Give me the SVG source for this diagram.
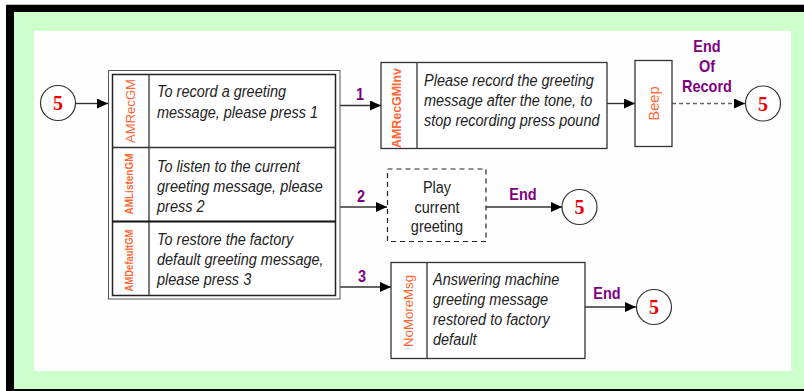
<svg xmlns="http://www.w3.org/2000/svg" width="804" height="391" viewBox="0 0 804 391">
  <defs>
    <marker id="arrow" markerUnits="userSpaceOnUse" markerWidth="12" markerHeight="10" refX="11" refY="5" orient="auto">
      <path d="M0,0 L11,5 L0,10 Z" fill="#000"/>
    </marker>
    <style>
      .box { fill: #fff; stroke: #333; stroke-width: 1.3; }
      .dashbox { fill: #fff; stroke: #222; stroke-width: 1.2; stroke-dasharray: 5 4; }
      .div { stroke: #333; stroke-width: 1.3; }
      .conn { stroke: #333; stroke-width: 1.4; fill: none; marker-end: url(#arrow); }
      .dashed { stroke: #666; stroke-width: 1.4; stroke-dasharray: 4 3; fill: none; marker-end: url(#arrow); }
      .end { fill: #fff; stroke: #333; stroke-width: 1.2; }
      .num { font-family: "Liberation Serif", "Times New Roman", serif; font-weight: bold; font-size: 20px; fill: #ee0000; text-anchor: middle; }
      .body { font-family: "Liberation Sans", Arial, sans-serif; font-style: italic; font-size: 14.5px; fill: #222; }
      .plain { font-family: "Liberation Sans", Arial, sans-serif; font-size: 14.5px; fill: #222; text-anchor: middle; }
      .tag { font-family: "Liberation Sans", Arial, sans-serif; fill: #ff6633; text-anchor: middle; dominant-baseline: central; }
      .lbl { font-family: "Liberation Sans", Arial, sans-serif; font-weight: bold; font-size: 14.5px; fill: #800080; text-anchor: middle; }
    </style>
  </defs>

  <!-- frame -->
  <rect x="6" y="4" width="798" height="387" fill="#000"/>
  <rect x="6" y="4" width="798" height="1" fill="#bbb"/>
  <rect x="14" y="12" width="790" height="377" fill="#ccffcc"/>
  <rect x="34" y="31" width="757" height="340" fill="#fefefe"/>

  <!-- connectors (horizontal labels use a slightly tall glyph scale) -->
  <g id="connectors">
    <line class="conn" x1="76" y1="103.5" x2="108" y2="103.5"/>
    <line class="conn" x1="340" y1="105.5" x2="381" y2="105.5"/>
    <line class="conn" x1="607" y1="103.5" x2="635" y2="103.5"/>
    <line class="dashed" x1="672" y1="103.5" x2="745" y2="103.5"/>
    <line class="conn" x1="340" y1="207" x2="387" y2="207"/>
    <line class="conn" x1="486" y1="207" x2="562" y2="207"/>
    <line class="conn" x1="340" y1="287" x2="391" y2="287"/>
    <line class="conn" x1="585" y1="307" x2="636" y2="307"/>
    <text class="lbl" transform="translate(360,100) scale(1,1.18)">1</text>
    <text class="lbl" transform="translate(361,202) scale(1,1.18)">2</text>
    <text class="lbl" transform="translate(362,282) scale(1,1.18)">3</text>
    <text class="lbl" transform="translate(707,51.5) scale(1,1.18)">End</text>
    <text class="lbl" transform="translate(707,71.5) scale(1,1.18)">Of</text>
    <text class="lbl" transform="translate(707,91.5) scale(1,1.18)">Record</text>
    <text class="lbl" transform="translate(523,199.5) scale(1,1.18)">End</text>
    <text class="lbl" transform="translate(607,298.5) scale(1,1.18)">End</text>
  </g>

  <!-- start connector -->
  <g id="start">
    <circle class="end" cx="58" cy="103" r="17.5"/>
    <text class="num" x="58" y="110">5</text>
  </g>

  <!-- greeting menu -->
  <g id="menu">
    <rect x="108.5" y="70.5" width="231.5" height="228.5" fill="#fff" stroke="#555" stroke-width="1"/>
    <rect x="112.5" y="74.5" width="223" height="221" fill="none" stroke="#222" stroke-width="1.5"/>
    <line class="div" x1="149" y1="74.5" x2="149" y2="295.5"/>
    <line class="div" x1="112.5" y1="147.5" x2="335.5" y2="147.5"/>
    <line x1="112.5" y1="221.5" x2="335.5" y2="221.5" stroke="#111" stroke-width="2.2"/>

    <text class="tag" font-size="13" textLength="64" lengthAdjust="spacingAndGlyphs" transform="translate(130.5,111) rotate(-90)">AMRecGM</text>
    <text class="body" transform="translate(157,97) scale(1,1.12)">To record a greeting</text>
    <text class="body" transform="translate(157,118) scale(1,1.12)">message, please press 1</text>

    <text class="tag" font-size="10" font-weight="bold" textLength="61" lengthAdjust="spacingAndGlyphs" transform="translate(129,184) rotate(-90)">AMListenGM</text>
    <text class="body" transform="translate(157,172) scale(1,1.12)">To listen to the current</text>
    <text class="body" transform="translate(157,192) scale(1,1.12)">greeting message, please</text>
    <text class="body" transform="translate(157,212) scale(1,1.12)">press 2</text>

    <text class="tag" font-size="10" font-weight="bold" textLength="62" lengthAdjust="spacingAndGlyphs" transform="translate(129,260.5) rotate(-90)">AMDefaultGM</text>
    <text class="body" transform="translate(157,244.5) scale(1,1.12)">To restore the factory</text>
    <text class="body" transform="translate(157,265) scale(1,1.12)">default greeting message,</text>
    <text class="body" transform="translate(157,285) scale(1,1.12)">please press 3</text>
  </g>

  <!-- record prompt -->
  <g id="record-prompt">
    <rect class="box" x="381" y="62.5" width="226" height="86"/>
    <line class="div" x1="417" y1="62.5" x2="417" y2="148.5"/>
    <text class="tag" font-size="12" font-weight="bold" textLength="80" lengthAdjust="spacingAndGlyphs" transform="translate(397,108) rotate(-90)">AMRecGMInv</text>
    <text class="body" transform="translate(424,86) scale(1,1.12)">Please record the greeting</text>
    <text class="body" transform="translate(424,106) scale(1,1.12)">message after the tone, to</text>
    <text class="body" transform="translate(424,126) scale(1,1.12)">stop recording press pound</text>
  </g>

  <!-- beep -->
  <g id="beep">
    <rect class="box" x="635" y="60.5" width="37" height="86"/>
    <text class="tag" font-size="14" textLength="34" lengthAdjust="spacingAndGlyphs" transform="translate(654,103.5) rotate(-90)">Beep</text>
  </g>

  <g id="end-record">
    <circle class="end" cx="763" cy="103.5" r="17.5"/>
    <text class="num" x="763" y="110.5">5</text>
  </g>

  <!-- play current greeting -->
  <g id="play">
    <rect class="dashbox" x="387.5" y="169" width="98.5" height="72.5"/>
    <text class="plain" transform="translate(437,193) scale(1,1.12)">Play</text>
    <text class="plain" transform="translate(437,213) scale(1,1.12)">current</text>
    <text class="plain" transform="translate(437,232) scale(1,1.12)">greeting</text>
  </g>

  <g id="end-play">
    <circle class="end" cx="579.5" cy="207" r="17.5"/>
    <text class="num" x="579.5" y="214">5</text>
  </g>

  <!-- restored message -->
  <g id="no-more-msg">
    <rect class="box" x="391" y="262.5" width="194" height="96"/>
    <line class="div" x1="427" y1="262.5" x2="427" y2="358.5"/>
    <text class="tag" font-size="13" textLength="72" lengthAdjust="spacingAndGlyphs" transform="translate(408.5,311) rotate(-90)">NoMoreMsg</text>
    <text class="body" transform="translate(433,285) scale(1,1.12)">Answering machine</text>
    <text class="body" transform="translate(433,305) scale(1,1.12)">greeting message</text>
    <text class="body" transform="translate(433,325) scale(1,1.12)">restored to factory</text>
    <text class="body" transform="translate(433,345) scale(1,1.12)">default</text>
  </g>

  <g id="end-restore">
    <circle class="end" cx="654" cy="307" r="17.5"/>
    <text class="num" x="654" y="314">5</text>
  </g>
</svg>
